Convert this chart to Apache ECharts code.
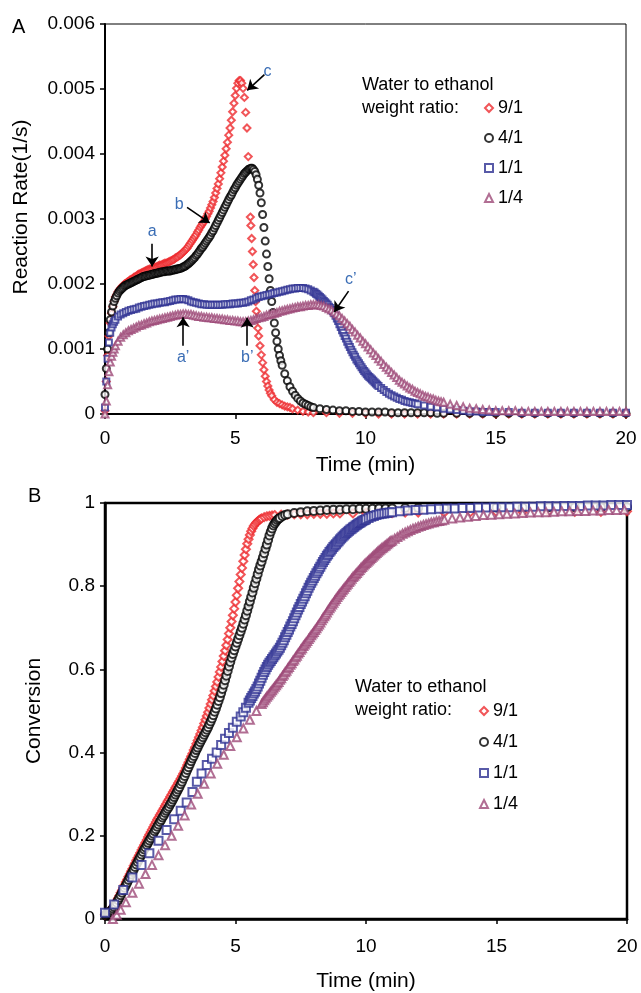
<!DOCTYPE html>
<html><head><meta charset="utf-8">
<script src="https://cdn.jsdelivr.net/npm/echarts@6/dist/echarts.min.js"></script>
<style>html,body{margin:0;padding:0;background:#fff}#c{width:641px;height:993px}</style>
</head><body><div id="c"></div>
<script>
// ---------- Series names / ticks ----------
const ratioNames = ['9/1', '4/1', '1/1', '1/4'];
const xTicks = [0, 5, 10, 15, 20];

// ---------- Panel A: reaction rate (1/s) vs time (min) ----------
const rate91 = [[0,0.00005],[0.05,0.0005],[0.1,0.0009],[0.15,0.0012],[0.2,0.0014],[0.25,0.00155],[0.3,0.00165],[0.35,0.00173],[0.4,0.0018],[0.45,0.00184],[0.5,0.00188],[0.55,0.00191],[0.6,0.00194],[0.65,0.00196],[0.7,0.00198],[0.75,0.002],[0.8,0.00201],[0.85,0.00203],[0.9,0.00204],[0.95,0.00206],[1.0,0.00207],[1.05,0.00208],[1.1,0.0021],[1.15,0.00211],[1.2,0.00212],[1.25,0.00214],[1.3,0.00215],[1.35,0.00216],[1.4,0.00217],[1.45,0.00218],[1.5,0.00219],[1.55,0.0022],[1.6,0.00221],[1.65,0.00222],[1.7,0.00223],[1.75,0.00223],[1.8,0.00224],[1.85,0.00225],[1.9,0.00226],[1.95,0.00226],[2.0,0.00227],[2.05,0.00228],[2.1,0.00229],[2.15,0.00229],[2.2,0.0023],[2.25,0.00231],[2.3,0.00232],[2.35,0.00232],[2.4,0.00233],[2.45,0.00234],[2.5,0.00235],[2.55,0.00236],[2.6,0.00237],[2.65,0.00238],[2.7,0.0024],[2.75,0.00241],[2.8,0.00242],[2.85,0.00244],[2.9,0.00245],[2.95,0.00247],[3.0,0.00249],[3.05,0.00251],[3.1,0.00253],[3.15,0.00255],[3.2,0.00258],[3.25,0.00261],[3.3,0.00264],[3.35,0.00267],[3.4,0.0027],[3.45,0.00273],[3.5,0.00276],[3.55,0.0028],[3.6,0.00283],[3.65,0.00287],[3.7,0.0029],[3.75,0.00293],[3.8,0.00296],[3.85,0.003],[3.9,0.00304],[3.95,0.00308],[4.0,0.00312],[4.05,0.00317],[4.1,0.00322],[4.15,0.00327],[4.2,0.00333],[4.25,0.0034],[4.3,0.00347],[4.35,0.00354],[4.4,0.00362],[4.45,0.00371],[4.5,0.0038],[4.55,0.00389],[4.6,0.00398],[4.65,0.00408],[4.7,0.00418],[4.75,0.00429],[4.8,0.0044],[4.85,0.00452],[4.9,0.00465],[4.95,0.00478],[5.0,0.0049],[5.05,0.00501],[5.1,0.00509],[5.15,0.00513],[5.2,0.00513],[5.25,0.00509],[5.3,0.00501],[5.35,0.00487],[5.4,0.00464],[5.45,0.0044],[5.5,0.00396],[5.58,0.00303],[5.6,0.0029],[5.63,0.0027],[5.66,0.0025],[5.69,0.0023],[5.72,0.0021],[5.75,0.0019],[5.78,0.00173],[5.81,0.00158],[5.84,0.00145],[5.87,0.00132],[5.9,0.0012],[5.95,0.00105],[6.0,0.00091],[6.05,0.00079],[6.1,0.00068],[6.15,0.00058],[6.2,0.0005],[6.25,0.00043],[6.3,0.00037],[6.35,0.00032],[6.4,0.00028],[6.5,0.00022],[6.6,0.00018],[6.7,0.00016],[6.8,0.00014],[6.9,0.00012],[7.0,0.00011],[7.1,0.0001],[7.2,0.00008],[7.4,0.00006],[7.6,0.00004],[7.8,0.00003],[8.0,0.00002],[8.5,0.00002],[9.0,0.00001],[9.5,0.00001],[10.0,0.00001],[10.5,0],[11.0,0],[11.5,0],[12.0,0],[12.5,0],[13.0,0],[13.5,0],[14.0,0],[14.5,0],[15.0,0],[15.5,0],[16.0,0],[16.5,0],[17.0,0],[17.5,0],[18.0,0],[18.5,0],[19.0,0],[19.5,0],[20.0,0]];
const rate41 = [[0,0.0003],[0.05,0.0007],[0.1,0.001],[0.15,0.00125],[0.2,0.00145],[0.25,0.00157],[0.3,0.00166],[0.35,0.00173],[0.4,0.00178],[0.45,0.00182],[0.5,0.00186],[0.55,0.00189],[0.6,0.00191],[0.65,0.00193],[0.7,0.00195],[0.75,0.00197],[0.8,0.00198],[0.85,0.00199],[0.9,0.002],[0.95,0.00201],[1.0,0.00202],[1.05,0.00203],[1.1,0.00204],[1.15,0.00205],[1.2,0.00206],[1.25,0.00207],[1.3,0.00208],[1.35,0.00209],[1.4,0.0021],[1.45,0.00211],[1.5,0.00212],[1.55,0.00212],[1.6,0.00213],[1.65,0.00213],[1.7,0.00214],[1.75,0.00214],[1.8,0.00215],[1.85,0.00215],[1.9,0.00216],[1.95,0.00216],[2.0,0.00217],[2.05,0.00217],[2.1,0.00218],[2.15,0.00218],[2.2,0.00219],[2.25,0.00219],[2.3,0.00219],[2.35,0.0022],[2.4,0.0022],[2.45,0.0022],[2.5,0.0022],[2.55,0.00221],[2.6,0.00221],[2.65,0.00222],[2.7,0.00222],[2.75,0.00223],[2.8,0.00223],[2.85,0.00224],[2.9,0.00224],[2.95,0.00225],[3.0,0.00226],[3.05,0.00227],[3.1,0.00228],[3.15,0.0023],[3.2,0.00231],[3.25,0.00233],[3.3,0.00235],[3.35,0.00237],[3.4,0.00239],[3.45,0.00241],[3.5,0.00244],[3.55,0.00246],[3.6,0.00249],[3.65,0.00252],[3.7,0.00255],[3.75,0.00257],[3.8,0.0026],[3.85,0.00263],[3.9,0.00266],[3.95,0.00269],[4.0,0.00272],[4.05,0.00275],[4.1,0.00279],[4.15,0.00282],[4.2,0.00286],[4.25,0.0029],[4.3,0.00294],[4.35,0.00298],[4.4,0.00302],[4.45,0.00306],[4.5,0.0031],[4.55,0.00314],[4.6,0.00318],[4.65,0.00322],[4.7,0.00326],[4.75,0.0033],[4.8,0.00334],[4.85,0.00337],[4.9,0.00341],[4.95,0.00345],[5.0,0.00348],[5.05,0.00352],[5.1,0.00355],[5.15,0.00358],[5.2,0.00361],[5.25,0.00364],[5.3,0.00367],[5.35,0.0037],[5.4,0.00372],[5.45,0.00374],[5.5,0.00376],[5.55,0.00377],[5.6,0.00378],[5.65,0.00378],[5.7,0.00376],[5.75,0.00373],[5.8,0.00368],[5.85,0.00361],[5.9,0.00352],[5.95,0.0034],[6.0,0.00325],[6.05,0.00307],[6.1,0.00287],[6.15,0.00266],[6.2,0.00246],[6.25,0.00227],[6.3,0.00208],[6.35,0.0019],[6.4,0.00173],[6.45,0.00156],[6.5,0.0014],[6.55,0.00125],[6.6,0.00112],[6.65,0.001],[6.7,0.0009],[6.75,0.00082],[6.8,0.00075],[6.9,0.00062],[7.0,0.00051],[7.1,0.00042],[7.2,0.00035],[7.3,0.00029],[7.4,0.00024],[7.5,0.0002],[7.6,0.00017],[7.7,0.00015],[7.8,0.00013],[7.9,0.00011],[8.0,0.0001],[8.25,0.00008],[8.5,0.00007],[8.75,0.00006],[9.0,0.00005],[9.25,0.00005],[9.5,0.00004],[9.75,0.00004],[10.0,0.00003],[10.25,0.00003],[10.5,0.00003],[10.75,0.00003],[11.0,0.00002],[11.25,0.00002],[11.5,0.00002],[11.75,0.00002],[12.0,0.00002],[12.25,0.00002],[12.5,0.00002],[12.75,0.00001],[13.0,0.00001],[13.5,0.00001],[14.0,0.00001],[14.5,0.00001],[15.0,0.00001],[15.5,0.00001],[16.0,0.00001],[16.5,0.00001],[17.0,0.00001],[17.5,0.00001],[18.0,0.00001],[18.5,0.00001],[19.0,0.00001],[19.5,0.00001],[20.0,0.00001]];
const rate11 = [[0,0.0001],[0.05,0.0005],[0.1,0.00085],[0.15,0.0011],[0.2,0.00125],[0.25,0.00133],[0.3,0.00138],[0.35,0.00142],[0.4,0.00145],[0.5,0.0015],[0.6,0.00153],[0.7,0.00155],[0.8,0.00157],[0.9,0.00159],[1.0,0.0016],[1.1,0.00161],[1.2,0.00162],[1.3,0.00164],[1.4,0.00165],[1.5,0.00166],[1.6,0.00167],[1.7,0.00168],[1.8,0.00169],[1.9,0.0017],[2.0,0.0017],[2.1,0.00171],[2.2,0.00172],[2.3,0.00172],[2.4,0.00173],[2.5,0.00174],[2.6,0.00175],[2.7,0.00176],[2.8,0.00176],[2.9,0.00177],[3.0,0.00177],[3.1,0.00176],[3.2,0.00175],[3.3,0.00173],[3.4,0.00172],[3.5,0.00171],[3.6,0.0017],[3.7,0.00169],[3.8,0.00169],[3.9,0.00168],[4.0,0.00168],[4.1,0.00168],[4.2,0.00168],[4.3,0.00168],[4.4,0.00168],[4.5,0.00168],[4.6,0.00169],[4.7,0.00169],[4.8,0.00169],[4.9,0.0017],[5.0,0.0017],[5.1,0.0017],[5.2,0.00171],[5.3,0.00171],[5.4,0.00172],[5.5,0.00173],[5.6,0.00175],[5.7,0.00176],[5.8,0.00178],[5.9,0.0018],[6.0,0.00181],[6.1,0.00182],[6.2,0.00183],[6.3,0.00184],[6.4,0.00185],[6.5,0.00186],[6.6,0.00187],[6.7,0.00188],[6.8,0.00189],[6.9,0.0019],[7.0,0.00191],[7.1,0.00192],[7.2,0.00193],[7.3,0.00193],[7.4,0.00194],[7.5,0.00194],[7.6,0.00194],[7.7,0.00193],[7.8,0.00192],[7.9,0.0019],[8.0,0.00188],[8.05,0.00187],[8.1,0.00185],[8.15,0.00184],[8.2,0.00182],[8.25,0.0018],[8.3,0.00178],[8.35,0.00176],[8.4,0.00174],[8.45,0.00172],[8.5,0.0017],[8.55,0.00168],[8.6,0.00165],[8.65,0.00163],[8.7,0.0016],[8.75,0.00158],[8.8,0.00155],[8.85,0.00151],[8.9,0.00147],[8.95,0.00143],[9.0,0.00138],[9.05,0.00134],[9.1,0.00129],[9.15,0.00125],[9.2,0.0012],[9.25,0.00116],[9.3,0.00111],[9.35,0.00107],[9.4,0.00103],[9.45,0.00099],[9.5,0.00095],[9.55,0.00091],[9.6,0.00088],[9.65,0.00084],[9.7,0.00081],[9.75,0.00078],[9.8,0.00075],[9.85,0.00072],[9.9,0.00069],[9.95,0.00066],[10.0,0.00064],[10.05,0.00061],[10.1,0.00059],[10.15,0.00057],[10.2,0.00055],[10.25,0.00053],[10.3,0.00051],[10.35,0.00049],[10.4,0.00047],[10.45,0.00045],[10.5,0.00043],[10.6,0.0004],[10.7,0.00037],[10.8,0.00034],[10.9,0.00031],[11.0,0.00029],[11.1,0.00027],[11.2,0.00025],[11.3,0.00023],[11.4,0.00022],[11.5,0.0002],[11.6,0.00019],[11.7,0.00018],[11.8,0.00017],[11.9,0.00016],[12.0,0.00015],[12.25,0.00013],[12.5,0.00011],[12.75,0.0001],[13.0,0.00008],[13.25,0.00007],[13.5,0.00006],[13.75,0.00005],[14.0,0.00004],[14.25,0.00004],[14.5,0.00003],[14.75,0.00003],[15.0,0.00003],[15.5,0.00003],[16.0,0.00002],[16.5,0.00002],[17.0,0.00002],[17.5,0.00002],[18.0,0.00002],[18.5,0.00002],[19.0,0.00002],[19.5,0.00002],[20.0,0.00002]];
const rate14 = [[0,0],[0.05,0.0002],[0.1,0.00045],[0.15,0.00065],[0.2,0.0008],[0.25,0.00089],[0.3,0.00095],[0.35,0.001],[0.4,0.00105],[0.5,0.00112],[0.6,0.00118],[0.7,0.00122],[0.8,0.00125],[0.9,0.00128],[1.0,0.0013],[1.1,0.00132],[1.2,0.00134],[1.3,0.00136],[1.4,0.00137],[1.5,0.00139],[1.6,0.0014],[1.7,0.00142],[1.8,0.00143],[1.9,0.00144],[2.0,0.00145],[2.1,0.00146],[2.2,0.00147],[2.3,0.00148],[2.4,0.00149],[2.5,0.0015],[2.6,0.00151],[2.7,0.00152],[2.8,0.00153],[2.9,0.00153],[3.0,0.00154],[3.1,0.00154],[3.2,0.00153],[3.3,0.00153],[3.4,0.00152],[3.5,0.00151],[3.6,0.0015],[3.7,0.0015],[3.8,0.00149],[3.9,0.00149],[4.0,0.00148],[4.1,0.00148],[4.2,0.00147],[4.3,0.00147],[4.4,0.00146],[4.5,0.00146],[4.6,0.00145],[4.7,0.00145],[4.8,0.00144],[4.9,0.00144],[5.0,0.00143],[5.1,0.00143],[5.2,0.00142],[5.3,0.00142],[5.4,0.00142],[5.5,0.00143],[5.6,0.00144],[5.7,0.00145],[5.8,0.00147],[5.9,0.00148],[6.0,0.00149],[6.1,0.0015],[6.2,0.00152],[6.3,0.00153],[6.4,0.00154],[6.5,0.00155],[6.6,0.00156],[6.7,0.00158],[6.8,0.00159],[6.9,0.0016],[7.0,0.00161],[7.1,0.00162],[7.2,0.00163],[7.3,0.00164],[7.4,0.00165],[7.5,0.00165],[7.6,0.00166],[7.7,0.00167],[7.8,0.00167],[7.9,0.00168],[8.0,0.00168],[8.1,0.00168],[8.2,0.00168],[8.3,0.00167],[8.4,0.00166],[8.5,0.00164],[8.6,0.00162],[8.7,0.0016],[8.8,0.00157],[8.9,0.00154],[9.0,0.00151],[9.1,0.00147],[9.2,0.00143],[9.3,0.00139],[9.4,0.00135],[9.5,0.0013],[9.6,0.00126],[9.7,0.00121],[9.8,0.00117],[9.9,0.00112],[10.0,0.00108],[10.1,0.00103],[10.2,0.00099],[10.3,0.00094],[10.4,0.0009],[10.5,0.00085],[10.6,0.00081],[10.7,0.00076],[10.8,0.00072],[10.9,0.00068],[11.0,0.00064],[11.1,0.0006],[11.2,0.00056],[11.3,0.00052],[11.4,0.00049],[11.5,0.00046],[11.6,0.00043],[11.7,0.0004],[11.8,0.00038],[11.9,0.00035],[12.0,0.00033],[12.1,0.00031],[12.2,0.00029],[12.3,0.00027],[12.4,0.00026],[12.5,0.00024],[12.6,0.00023],[12.7,0.00021],[12.8,0.0002],[12.9,0.00019],[13.0,0.00018],[13.25,0.00015],[13.5,0.00013],[13.75,0.00011],[14.0,0.00009],[14.25,0.00008],[14.5,0.00007],[14.75,0.00006],[15.0,0.00005],[15.25,0.00005],[15.5,0.00005],[15.75,0.00005],[16.0,0.00004],[16.25,0.00004],[16.5,0.00004],[16.75,0.00004],[17.0,0.00004],[17.25,0.00004],[17.5,0.00004],[17.75,0.00004],[18.0,0.00004],[18.25,0.00004],[18.5,0.00004],[18.75,0.00004],[19.0,0.00004],[19.25,0.00004],[19.5,0.00004],[19.75,0.00004],[20.0,0.00004]];

// ---------- Panel B: conversion vs time (min) ----------
const conv91 = [[0,0.01],[0.05,0.012],[0.1,0.014],[0.15,0.017],[0.2,0.02],[0.25,0.024],[0.3,0.028],[0.35,0.033],[0.4,0.038],[0.45,0.044],[0.5,0.05],[0.55,0.056],[0.6,0.063],[0.65,0.069],[0.7,0.076],[0.75,0.082],[0.8,0.089],[0.85,0.095],[0.9,0.102],[0.95,0.108],[1.0,0.115],[1.05,0.121],[1.1,0.128],[1.15,0.134],[1.2,0.141],[1.25,0.147],[1.3,0.153],[1.35,0.159],[1.4,0.166],[1.45,0.172],[1.5,0.178],[1.55,0.184],[1.6,0.19],[1.65,0.197],[1.7,0.203],[1.75,0.209],[1.8,0.215],[1.85,0.221],[1.9,0.227],[1.95,0.233],[2.0,0.239],[2.05,0.244],[2.1,0.25],[2.15,0.255],[2.2,0.261],[2.25,0.266],[2.3,0.272],[2.35,0.277],[2.4,0.283],[2.45,0.288],[2.5,0.294],[2.55,0.299],[2.6,0.305],[2.65,0.31],[2.7,0.316],[2.75,0.321],[2.8,0.327],[2.85,0.332],[2.9,0.338],[2.95,0.344],[3.0,0.35],[3.05,0.356],[3.1,0.363],[3.15,0.37],[3.2,0.377],[3.25,0.384],[3.3,0.391],[3.35,0.398],[3.4,0.406],[3.45,0.413],[3.5,0.421],[3.55,0.429],[3.6,0.437],[3.65,0.445],[3.7,0.453],[3.75,0.461],[3.8,0.47],[3.85,0.479],[3.9,0.488],[3.95,0.497],[4.0,0.507],[4.05,0.517],[4.1,0.527],[4.15,0.537],[4.2,0.548],[4.25,0.559],[4.3,0.57],[4.35,0.582],[4.4,0.594],[4.45,0.606],[4.5,0.619],[4.55,0.632],[4.6,0.645],[4.65,0.658],[4.7,0.672],[4.75,0.686],[4.8,0.7],[4.85,0.715],[4.9,0.73],[4.95,0.746],[5.0,0.762],[5.05,0.778],[5.1,0.795],[5.15,0.811],[5.2,0.828],[5.25,0.844],[5.3,0.86],[5.35,0.875],[5.4,0.889],[5.45,0.902],[5.5,0.913],[5.55,0.923],[5.6,0.932],[5.65,0.939],[5.7,0.945],[5.75,0.949],[5.8,0.953],[5.85,0.956],[5.9,0.959],[5.95,0.961],[6.0,0.963],[6.1,0.966],[6.2,0.968],[6.3,0.969],[6.4,0.97],[6.5,0.971],[6.75,0.972],[7.0,0.972],[7.25,0.973],[7.5,0.973],[7.75,0.973],[8.0,0.974],[8.25,0.974],[8.5,0.974],[8.75,0.975],[9.0,0.975],[9.5,0.975],[10.0,0.976],[10.5,0.976],[11.0,0.976],[11.5,0.977],[12.0,0.977],[13.0,0.977],[14.0,0.978],[15.0,0.978],[16.0,0.978],[17.0,0.979],[18.0,0.979],[19.0,0.979],[20.0,0.98]];
const conv41 = [[0,0.01],[0.05,0.011],[0.1,0.013],[0.15,0.015],[0.2,0.018],[0.25,0.021],[0.3,0.025],[0.35,0.029],[0.4,0.034],[0.45,0.039],[0.5,0.045],[0.55,0.051],[0.6,0.057],[0.65,0.063],[0.7,0.069],[0.75,0.075],[0.8,0.081],[0.85,0.087],[0.9,0.094],[0.95,0.1],[1.0,0.107],[1.05,0.113],[1.1,0.119],[1.15,0.125],[1.2,0.131],[1.25,0.137],[1.3,0.143],[1.35,0.149],[1.4,0.155],[1.45,0.161],[1.5,0.167],[1.55,0.172],[1.6,0.178],[1.65,0.183],[1.7,0.189],[1.75,0.194],[1.8,0.2],[1.85,0.205],[1.9,0.211],[1.95,0.216],[2.0,0.222],[2.05,0.227],[2.1,0.233],[2.15,0.238],[2.2,0.244],[2.25,0.249],[2.3,0.255],[2.35,0.26],[2.4,0.265],[2.45,0.27],[2.5,0.276],[2.55,0.281],[2.6,0.287],[2.65,0.293],[2.7,0.299],[2.75,0.305],[2.8,0.311],[2.85,0.317],[2.9,0.324],[2.95,0.33],[3.0,0.337],[3.05,0.344],[3.1,0.351],[3.15,0.358],[3.2,0.365],[3.25,0.372],[3.3,0.379],[3.35,0.386],[3.4,0.392],[3.45,0.399],[3.5,0.406],[3.55,0.412],[3.6,0.419],[3.65,0.425],[3.7,0.431],[3.75,0.437],[3.8,0.443],[3.85,0.449],[3.9,0.455],[3.95,0.461],[4.0,0.468],[4.05,0.475],[4.1,0.482],[4.15,0.49],[4.2,0.498],[4.25,0.506],[4.3,0.515],[4.35,0.524],[4.4,0.533],[4.45,0.543],[4.5,0.553],[4.55,0.563],[4.6,0.574],[4.65,0.585],[4.7,0.596],[4.75,0.607],[4.8,0.618],[4.85,0.628],[4.9,0.637],[4.95,0.646],[5.0,0.655],[5.05,0.664],[5.1,0.673],[5.15,0.682],[5.2,0.691],[5.25,0.7],[5.3,0.71],[5.35,0.72],[5.4,0.73],[5.45,0.741],[5.5,0.752],[5.55,0.763],[5.6,0.774],[5.65,0.785],[5.7,0.796],[5.75,0.807],[5.8,0.818],[5.85,0.829],[5.9,0.84],[5.95,0.85],[6.0,0.859],[6.05,0.869],[6.1,0.879],[6.15,0.89],[6.2,0.9],[6.25,0.911],[6.3,0.922],[6.35,0.931],[6.4,0.939],[6.45,0.946],[6.5,0.951],[6.55,0.955],[6.6,0.959],[6.65,0.962],[6.7,0.964],[6.8,0.968],[6.9,0.971],[7.0,0.973],[7.25,0.976],[7.5,0.978],[7.75,0.98],[8.0,0.981],[8.25,0.982],[8.5,0.983],[8.75,0.984],[9.0,0.984],[9.25,0.985],[9.5,0.985],[9.75,0.986],[10.0,0.986],[10.25,0.986],[10.5,0.987],[10.75,0.987],[11.0,0.987],[11.5,0.988],[12.0,0.988],[13.0,0.988],[14.0,0.989],[15.0,0.989],[16.0,0.989],[17.0,0.99],[18.0,0.99],[19.0,0.99],[20.0,0.99]];
const conv11 = [[0,0.015],[0.35,0.035],[0.7,0.07],[1.05,0.1],[1.4,0.13],[1.7,0.158],[2.05,0.188],[2.36,0.214],[2.65,0.24],[2.9,0.26],[3.13,0.28],[3.35,0.305],[3.52,0.33],[3.7,0.35],[3.9,0.37],[4.1,0.385],[4.28,0.4],[4.45,0.418],[4.6,0.433],[4.75,0.447],[4.9,0.46],[5.05,0.474],[5.2,0.487],[5.3,0.497],[5.4,0.508],[5.5,0.52],[5.55,0.525],[5.6,0.531],[5.65,0.536],[5.7,0.542],[5.75,0.547],[5.8,0.553],[5.85,0.559],[5.9,0.566],[5.95,0.573],[6.0,0.58],[6.05,0.587],[6.1,0.594],[6.15,0.6],[6.2,0.606],[6.25,0.611],[6.3,0.616],[6.35,0.62],[6.4,0.625],[6.45,0.629],[6.5,0.634],[6.55,0.638],[6.6,0.643],[6.65,0.647],[6.7,0.652],[6.75,0.658],[6.8,0.664],[6.85,0.67],[6.9,0.677],[6.95,0.683],[7.0,0.69],[7.05,0.696],[7.1,0.703],[7.15,0.709],[7.2,0.716],[7.25,0.723],[7.3,0.73],[7.35,0.737],[7.4,0.744],[7.45,0.75],[7.5,0.757],[7.55,0.763],[7.6,0.77],[7.65,0.776],[7.7,0.783],[7.75,0.789],[7.8,0.796],[7.85,0.802],[7.9,0.808],[7.95,0.814],[8.0,0.82],[8.05,0.825],[8.1,0.831],[8.15,0.836],[8.2,0.842],[8.25,0.847],[8.3,0.853],[8.35,0.858],[8.4,0.863],[8.45,0.868],[8.5,0.873],[8.55,0.877],[8.6,0.882],[8.65,0.886],[8.7,0.89],[8.75,0.894],[8.8,0.898],[8.85,0.901],[8.9,0.905],[8.95,0.908],[9.0,0.912],[9.05,0.915],[9.1,0.919],[9.15,0.922],[9.2,0.925],[9.25,0.928],[9.3,0.931],[9.35,0.933],[9.4,0.936],[9.45,0.938],[9.5,0.941],[9.55,0.943],[9.6,0.946],[9.65,0.948],[9.7,0.95],[9.75,0.952],[9.8,0.954],[9.85,0.956],[9.9,0.958],[9.95,0.959],[10.0,0.961],[10.1,0.964],[10.2,0.967],[10.3,0.969],[10.4,0.971],[10.5,0.973],[10.6,0.974],[10.7,0.975],[10.8,0.976],[10.9,0.977],[11.0,0.978],[11.3,0.98],[11.6,0.982],[11.9,0.983],[12.2,0.984],[12.5,0.985],[12.8,0.986],[13.1,0.987],[13.4,0.987],[13.7,0.988],[14.0,0.988],[14.3,0.989],[14.6,0.989],[14.9,0.99],[15.2,0.99],[15.5,0.99],[15.8,0.991],[16.1,0.991],[16.4,0.991],[16.7,0.992],[17.0,0.992],[17.3,0.992],[17.6,0.993],[17.9,0.993],[18.2,0.993],[18.5,0.994],[18.8,0.994],[19.1,0.994],[19.4,0.995],[19.7,0.995],[20.0,0.995]];
const conv14 = [[0.3,0.0],[0.45,0.01],[0.6,0.022],[0.8,0.04],[1.05,0.063],[1.3,0.085],[1.55,0.108],[1.8,0.13],[2.05,0.153],[2.3,0.177],[2.55,0.2],[2.8,0.224],[3.05,0.249],[3.3,0.275],[3.55,0.301],[3.8,0.325],[4.05,0.35],[4.3,0.373],[4.55,0.395],[4.8,0.416],[5.05,0.437],[5.3,0.458],[5.55,0.479],[5.8,0.5],[6.0,0.517],[6.05,0.521],[6.1,0.526],[6.15,0.53],[6.2,0.534],[6.25,0.538],[6.3,0.542],[6.35,0.546],[6.4,0.55],[6.45,0.554],[6.5,0.558],[6.55,0.562],[6.6,0.566],[6.65,0.57],[6.7,0.575],[6.75,0.579],[6.8,0.584],[6.85,0.588],[6.9,0.593],[6.95,0.597],[7.0,0.602],[7.05,0.606],[7.1,0.611],[7.15,0.615],[7.2,0.62],[7.25,0.624],[7.3,0.629],[7.35,0.633],[7.4,0.638],[7.45,0.642],[7.5,0.647],[7.55,0.651],[7.6,0.656],[7.65,0.66],[7.7,0.664],[7.75,0.668],[7.8,0.673],[7.85,0.677],[7.9,0.682],[7.95,0.686],[8.0,0.69],[8.05,0.695],[8.1,0.699],[8.15,0.704],[8.2,0.708],[8.25,0.713],[8.3,0.718],[8.35,0.723],[8.4,0.728],[8.45,0.732],[8.5,0.737],[8.55,0.742],[8.6,0.747],[8.65,0.751],[8.7,0.756],[8.75,0.76],[8.8,0.765],[8.85,0.769],[8.9,0.774],[8.95,0.778],[9.0,0.782],[9.05,0.786],[9.1,0.79],[9.15,0.794],[9.2,0.798],[9.25,0.802],[9.3,0.806],[9.35,0.81],[9.4,0.814],[9.45,0.818],[9.5,0.822],[9.55,0.825],[9.6,0.829],[9.65,0.832],[9.7,0.836],[9.75,0.839],[9.8,0.843],[9.85,0.846],[9.9,0.85],[9.95,0.853],[10.0,0.856],[10.05,0.859],[10.1,0.862],[10.15,0.865],[10.2,0.868],[10.25,0.871],[10.3,0.874],[10.35,0.877],[10.4,0.88],[10.45,0.883],[10.5,0.886],[10.55,0.888],[10.6,0.891],[10.65,0.893],[10.7,0.896],[10.75,0.898],[10.8,0.901],[10.85,0.903],[10.9,0.906],[10.95,0.908],[11.0,0.91],[11.1,0.914],[11.2,0.918],[11.3,0.922],[11.4,0.926],[11.5,0.929],[11.6,0.932],[11.7,0.935],[11.8,0.938],[11.9,0.94],[12.0,0.943],[12.1,0.945],[12.2,0.947],[12.3,0.949],[12.4,0.951],[12.5,0.953],[12.6,0.954],[12.7,0.956],[12.8,0.957],[12.9,0.958],[13.0,0.96],[13.3,0.963],[13.6,0.965],[13.9,0.967],[14.2,0.969],[14.5,0.971],[14.8,0.972],[15.1,0.973],[15.4,0.974],[15.7,0.975],[16.0,0.976],[16.3,0.977],[16.6,0.978],[16.9,0.978],[17.2,0.979],[17.5,0.98],[17.8,0.98],[18.1,0.981],[18.4,0.981],[18.7,0.982],[19.0,0.982],[19.3,0.983],[19.6,0.983],[19.9,0.984]];

// ---------- Annotation arrows in panel A (data coordinates) ----------
const arrowNames = ['a', 'b', 'c', "a\u2019", "b\u2019", "c\u2019"];
const arrowFrom = [[1.81,0.00262],[3.15,0.00318],[6.12,0.00522],[3.0,0.00105],[5.46,0.00105],[9.35,0.00189]];
const arrowTo   = [[1.81,0.00227],[4.02,0.00294],[5.46,0.00498],[3.0,0.00149],[5.46,0.00148],[8.8,0.00157]];

const FONT = "'Liberation Sans', Arial, sans-serif";
const colors = ['#ee2a2e', '#000000', '#2e3192', '#9e4a78'];
const symbols = ['diamond', 'circle', 'rect', 'triangle'];
const sizesA = [7, 7, 6, 7];
const sizesB = [8, 8, 8, 8];
const dataA = [rate91, rate41, rate11, rate14];
const dataB = [conv91, conv41, conv11, conv14];

const chart = echarts.init(document.getElementById('c'), null, {renderer: 'canvas'});

function xAxisDef(gi, lw, margin, nameGap) {
  return {
    gridIndex: gi, type: 'value', min: xTicks[0], max: xTicks[xTicks.length - 1], interval: 5,
    name: 'Time (min)', nameLocation: 'middle', nameGap: nameGap,
    nameTextStyle: {fontFamily: FONT, fontSize: 21, color: '#000'},
    axisLine: {onZero: false, lineStyle: {color: '#000', width: lw}},
    axisTick: {show: true, length: 5, lineStyle: {color: '#000', width: 1.5}},
    axisLabel: {fontFamily: FONT, fontSize: 19, color: '#000', margin: margin},
    splitLine: {show: false}
  };
}

const series = [];
ratioNames.forEach((n, i) => {
  series.push({
    name: n, type: 'scatter', xAxisIndex: 0, yAxisIndex: 0, data: dataA[i],
    symbol: symbols[i], symbolSize: sizesA[i], animation: false, clip: false,
    itemStyle: {color: '#ffffff', borderColor: colors[i], borderWidth: 2},
    emphasis: {disabled: true}
  });
});
ratioNames.forEach((n, i) => {
  series.push({
    name: n, type: 'scatter', xAxisIndex: 1, yAxisIndex: 1, data: dataB[i],
    symbol: symbols[i], symbolSize: sizesB[i], animation: false, clip: false,
    itemStyle: {color: '#ffffff', borderColor: colors[i], borderWidth: 2},
    emphasis: {disabled: true}
  });
});
// annotation arrows drawn via markLine in panel A coordinates
series.push({
  type: 'scatter', xAxisIndex: 0, yAxisIndex: 0, data: [], animation: false,
  markLine: {
    silent: true, animation: false, symbol: ['none', 'arrow'], symbolSize: 10,
    lineStyle: {color: '#000', width: 1.6, type: 'solid'},
    label: {show: true, position: 'start', formatter: '{b}', color: '#3a6db5', fontFamily: FONT, fontSize: 16, distance: 4},
    emphasis: {disabled: true},
    data: arrowNames.map((nm, i) => [{name: nm, coord: arrowFrom[i]}, {coord: arrowTo[i]}])
  }
});

const legendCommon = {
  data: ratioNames, orient: 'vertical', itemWidth: 8, itemHeight: 8,
  selectedMode: false, textStyle: {fontFamily: FONT, fontSize: 18, color: '#000'}, padding: 0
};

chart.setOption({
  animation: false,
  backgroundColor: '#ffffff',
  grid: [
    {left: 105, top: 24, width: 521, height: 390, show: true, borderColor: '#000', borderWidth: 1, backgroundColor: 'transparent'},
    {left: 105, top: 503, width: 522, height: 416, show: true, borderColor: '#000', borderWidth: 2.5, backgroundColor: 'transparent'}
  ],
  xAxis: [xAxisDef(0, 2, 15, 41), xAxisDef(1, 2.5, 18, 52)],
  yAxis: [
    {gridIndex: 0, type: 'value', min: 0, max: 0.006, interval: 0.001,
     name: 'Reaction Rate(1/s)', nameLocation: 'middle', nameGap: 73,
     nameTextStyle: {fontFamily: FONT, fontSize: 21, color: '#000', padding: [0, 0, 0, 24]},
     axisLine: {show: true, onZero: false, lineStyle: {color: '#000', width: 2}},
     axisTick: {show: true, length: 5, lineStyle: {color: '#000', width: 1.5}},
     axisLabel: {fontFamily: FONT, fontSize: 19, color: '#000', margin: 10},
     splitLine: {show: false}},
    {gridIndex: 1, type: 'value', min: 0, max: 1, interval: 0.2,
     name: 'Conversion', nameLocation: 'middle', nameGap: 60,
     nameTextStyle: {fontFamily: FONT, fontSize: 21, color: '#000'},
     axisLine: {show: true, onZero: false, lineStyle: {color: '#000', width: 2.5}},
     axisTick: {show: true, length: 5, lineStyle: {color: '#000', width: 1.5}},
     axisLabel: {fontFamily: FONT, fontSize: 19, color: '#000', margin: 10},
     splitLine: {show: false}}
  ],
  legend: [
    Object.assign({}, legendCommon, {left: 484, top: 99, itemGap: 12}),
    Object.assign({}, legendCommon, {left: 479, top: 702, itemGap: 13})
  ],
  graphic: [
    {type: 'text', left: 12, top: 17, style: {text: 'A', font: '20px ' + FONT, fill: '#000'}},
    {type: 'text', left: 28, top: 486, style: {text: 'B', font: '20px ' + FONT, fill: '#000'}},
    {type: 'text', left: 362, top: 74, style: {text: 'Water to ethanol\nweight ratio:', font: '18px ' + FONT, fill: '#000', lineHeight: 23}},
    {type: 'text', left: 355, top: 676, style: {text: 'Water to ethanol\nweight ratio:', font: '18px ' + FONT, fill: '#000', lineHeight: 23}}
  ],
  series: series
});
</script>
</body></html>
